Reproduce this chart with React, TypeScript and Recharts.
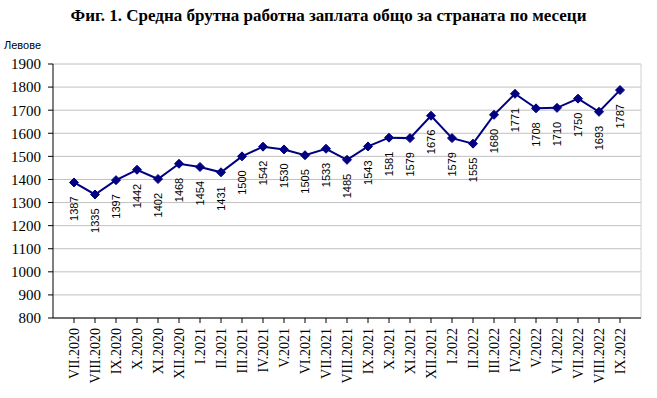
import { LineChart, Line, XAxis, YAxis, CartesianGrid } from "recharts"

const months = [
  "VII.2020", "VIII.2020", "IX.2020", "X.2020", "XI.2020", "XII.2020",
  "I.2021", "II.2021", "III.2021", "IV.2021", "V.2021", "VI.2021",
  "VII.2021", "VIII.2021", "IX.2021", "X.2021", "XI.2021", "XII.2021",
  "I.2022", "II.2022", "III.2022", "IV.2022", "V.2022", "VI.2022",
  "VII.2022", "VIII.2022", "IX.2022",
]

const wages = [
  1387, 1335, 1397, 1442, 1402, 1468, 1454, 1431, 1500, 1542, 1530, 1505,
  1533, 1485, 1543, 1581, 1579, 1676, 1579, 1555, 1680, 1771, 1708, 1710,
  1750, 1693, 1787,
]

const yTicks = [800, 900, 1000, 1100, 1200, 1300, 1400, 1500, 1600, 1700, 1800, 1900]

const data = months.map((m, i) => ({ month: m, wage: wages[i] }))

const serif = "'Liberation Serif', 'Times New Roman', serif"
const sans = "'Liberation Sans', Arial, sans-serif"

function MonthTick({ x, y, payload }: any) {
  return (
    <text
      x={x}
      y={y}
      transform={`rotate(-90, ${x}, ${y})`}
      textAnchor="end"
      dy="0.35em"
      fontFamily={serif}
      fontSize={14}
      fill="#000"
    >
      {payload.value}
    </text>
  )
}

function Diamond({ cx, cy }: any) {
  const r = 4.5
  return (
    <polygon
      points={`${cx},${cy - r} ${cx + r},${cy} ${cx},${cy + r} ${cx - r},${cy}`}
      fill="#000080"
      stroke="#000080"
    />
  )
}

function ValueLabel({ x, y, value }: any) {
  const ty = y + 14
  return (
    <text
      x={x}
      y={ty}
      transform={`rotate(-90, ${x}, ${ty})`}
      textAnchor="end"
      dy="0.35em"
      fontFamily={sans}
      fontSize={11}
      fill="#000"
    >
      {value}
    </text>
  )
}

export default function App() {
  return (
    <div style={{ position: "absolute", left: 0, top: 0, width: 657, height: 398, background: "#fff" }}>
      <div
        style={{
          position: "absolute",
          top: 6,
          left: 0,
          width: 657,
          textAlign: "center",
          fontFamily: serif,
          fontWeight: "bold",
          fontSize: 17,
        }}
      >
        Фиг. 1. Средна брутна работна заплата общо за страната по месеци
      </div>
      <div style={{ position: "absolute", top: 39, left: 4, fontFamily: sans, fontSize: 11 }}>
        Левове
      </div>
      <LineChart
        width={657}
        height={398}
        data={data}
        margin={{ top: 64, right: 16, bottom: 0, left: 8 }}
      >
        <CartesianGrid vertical={false} stroke="#c0c0c0" />
        <CartesianGrid horizontal={false} verticalPoints={[641]} stroke="#d0d0d0" />
        <XAxis
          dataKey="month"
          interval={0}
          height={80}
          padding={{ left: 21, right: 21 }}
          axisLine={{ stroke: "#000" }}
          tickLine={{ stroke: "#000" }}
          tickSize={5}
          tickMargin={5}
          tick={<MonthTick />}
        />
        <YAxis
          domain={[800, 1900]}
          ticks={yTicks}
          width={45}
          interval={0}
          axisLine={{ stroke: "#000" }}
          tickLine={{ stroke: "#000" }}
          tickSize={5}
          tickMargin={7}
          tick={{ fill: "#000", fontFamily: serif, fontSize: 15 }}
        />
        <Line
          type="linear"
          dataKey="wage"
          stroke="#000080"
          strokeWidth={2}
          dot={<Diamond />}
          activeDot={false}
          label={<ValueLabel />}
          isAnimationActive={false}
        />
      </LineChart>
    </div>
  )
}
